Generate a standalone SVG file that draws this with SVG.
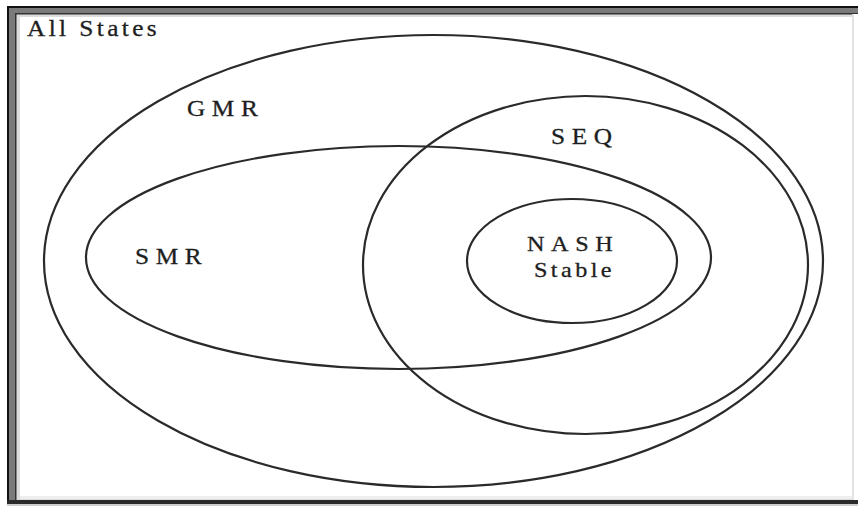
<svg xmlns="http://www.w3.org/2000/svg" width="858" height="506" viewBox="0 0 858 506">
<style>
.set{fill:none;stroke:#2a2a2a;stroke-width:2.2}
.lbl{font-family:"Liberation Serif","Times New Roman",serif;font-size:23px;fill:#1e1e1e;stroke:#1e1e1e;stroke-width:0.3}
.caps{letter-spacing:6px}
.low{letter-spacing:3.1px}
.sm{font-size:22px}
</style>
<rect x="0" y="0" width="858" height="506" fill="#fff"/>
<g id="frame">
<rect x="7" y="6" width="851" height="499" fill="#7a7a7a"/>
<rect x="15" y="13" width="843" height="489" fill="#333"/>
<rect x="16.5" y="14.5" width="841.5" height="486" fill="#dcdcdc"/>
<rect x="20" y="17" width="832" height="481" fill="#fff"/>
<rect x="7" y="6" width="851" height="2" fill="#111"/>
<rect x="7" y="6" width="2" height="499" fill="#111"/>
<rect x="7" y="500" width="851" height="4" fill="#2a2a2a"/>
<rect x="20" y="496" width="832" height="3" fill="#eee"/>
<rect x="852" y="14" width="2" height="486" fill="#e2e2e2"/>
<rect x="854" y="14" width="4" height="486" fill="#fff"/>
<rect x="7" y="504" width="851" height="2" fill="#cfcfcf"/>
</g>
<g id="all-states"><text class="lbl low" transform="translate(27,36) scale(1.1,1)">All States</text></g>
<g id="gmr"><ellipse class="set" cx="433.5" cy="261" rx="389.5" ry="226"/><text class="lbl caps" transform="translate(187,116) scale(1.1,1)">GMR</text></g>
<g id="seq"><ellipse class="set" cx="585.5" cy="265" rx="222.5" ry="169"/><text class="lbl caps" transform="translate(551,144) scale(1.1,1)">SEQ</text></g>
<g id="smr"><ellipse class="set" cx="398.5" cy="257.5" rx="312.5" ry="111.5"/><text class="lbl caps" transform="translate(135,264) scale(1.1,1)">SMR</text></g>
<g id="nash"><ellipse class="set" cx="572" cy="261" rx="105" ry="62"/><text class="lbl caps sm" transform="translate(527,251) scale(1.1,1)">NASH</text><text class="lbl low sm" transform="translate(534,277) scale(1.1,1)">Stable</text></g>
<g id="connectors"/>
</svg>
